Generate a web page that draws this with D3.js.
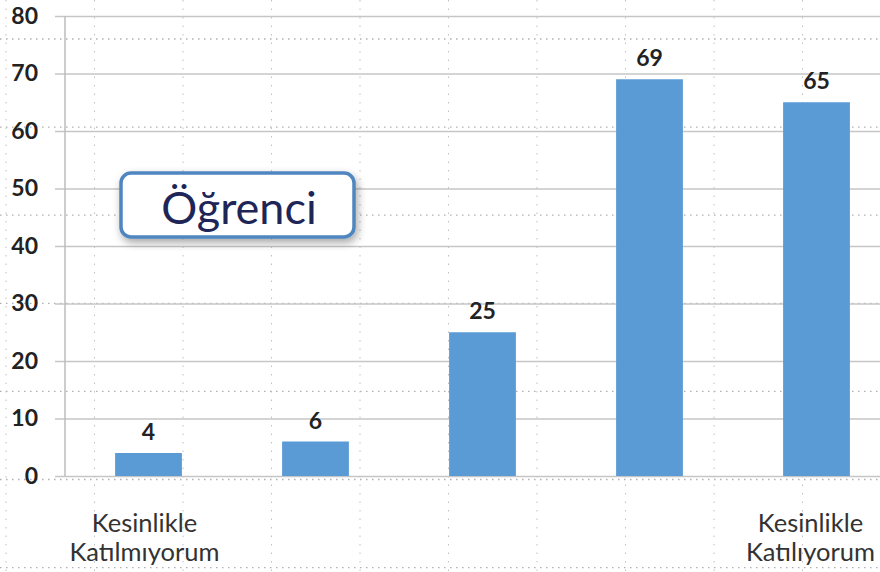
<!DOCTYPE html>
<html><head><meta charset="utf-8">
<script src="https://cdn.jsdelivr.net/npm/d3@7"></script>
<style>
html,body{margin:0;padding:0;background:#fff;}
svg{display:block;}
</style></head>
<body>
<script>
const categories = ["Kesinlikle Katılmıyorum", "", "", "", "Kesinlikle Katılıyorum"];
const values = [4, 6, 25, 69, 65];
const yTicks = [0, 10, 20, 30, 40, 50, 60, 70, 80];
const boxLabel = "Öğrenci";

const W = 880, H = 572;
const svg = d3.select("body").append("svg").attr("width", W).attr("height", H);

const defs = svg.append("defs");
const f = defs.append("filter").attr("id","sh").attr("x","-20%").attr("y","-30%").attr("width","140%").attr("height","170%");
f.append("feDropShadow").attr("dx",2).attr("dy",4).attr("stdDeviation",4).attr("flood-color","#000").attr("flood-opacity",0.35);

// background dotted slide grid
const bg = svg.append("g");
d3.range(39, H, 88.1).forEach(y => bg.append("line").attr("x1",0).attr("x2",W).attr("y1",y).attr("y2",y)
  .attr("stroke","#b0b0b0").attr("stroke-width",1.3).attr("stroke-dasharray","1.5,4.5"));
d3.range(6, W, 88.5).forEach(x => bg.append("line").attr("y1",0).attr("y2",H).attr("x1",x).attr("x2",x)
  .attr("stroke","#c0c0c0").attr("stroke-width",1).attr("stroke-dasharray","1.5,7"));

const x0 = 65, x1 = 900, yTop = 16, yBot = 476;
const x = d3.scaleBand().domain(d3.range(values.length)).range([x0, x1]).paddingInner(0.6).paddingOuter(0.3);
const y = d3.scaleLinear().domain([0, 80]).range([yBot, yTop]);

// grid lines
const yAxis = d3.axisLeft(y).tickValues(yTicks).tickSize(-(x1 - x0)).tickPadding(27).tickFormat(d3.format("d"));
const gy = svg.append("g").attr("transform", `translate(${x0},0)`).call(yAxis);
gy.select(".domain").remove();
gy.selectAll(".tick line").attr("stroke","#c6c6c6").attr("stroke-width",1.5).attr("x1",-10);
gy.selectAll(".tick text").attr("fill","#222").style("font-family","Lato, sans-serif").style("font-size","23px").style("font-weight","700");

// vertical axis line
svg.append("line").attr("x1",x0).attr("x2",x0).attr("y1",yTop).attr("y2",yBot).attr("stroke","#bdbdbd").attr("stroke-width",1.5);

// bars
svg.append("g").selectAll("rect").data(values).join("rect")
  .attr("x",(d,i)=>x(i)).attr("width",x.bandwidth())
  .attr("y",d=>y(d)).attr("height",d=>yBot - y(d))
  .attr("fill","#5b9bd5");

// value labels
svg.append("g").selectAll("text").data(values).join("text")
  .attr("x",(d,i)=>x(i)+x.bandwidth()/2).attr("y",d=>y(d)-13)
  .attr("text-anchor","middle").attr("fill","#222")
  .style("font-family","Lato, sans-serif").style("font-size","23px").style("font-weight","700")
  .text(d=>d);

// category labels
const cl = svg.append("g");
categories.forEach((c,i)=>{
  if(!c) return;
  const parts = c.split(" ");
  const t = cl.append("text").attr("text-anchor","middle").attr("fill","#333")
    .style("font-family","Lato, sans-serif").style("font-size","25.5px");
  const cx = x(i)+x.bandwidth()/2 + (i===0 ? -4 : -6);
  parts.forEach((p,j)=>t.append("tspan").attr("x", cx).attr("y", 532 + j*29).text(p));
});

// Öğrenci box
const bx = svg.append("g");
bx.append("rect").attr("x",121).attr("y",173).attr("width",233).attr("height",64).attr("rx",10)
  .attr("fill","#fff").attr("stroke","#4f86c0").attr("stroke-width",3.5).attr("filter","url(#sh)");
bx.append("text").attr("x",239).attr("y",224).attr("text-anchor","middle").attr("fill","#1e2657")
  .style("font-family","Lato, sans-serif").style("font-size","45px").text(boxLabel);
</script>
</body></html>
